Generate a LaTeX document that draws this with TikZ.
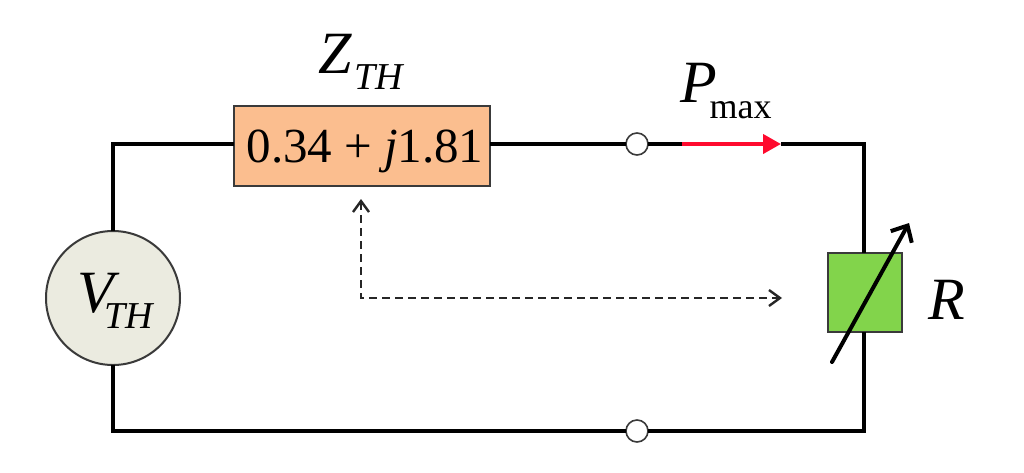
\documentclass[tikz,border=0pt]{standalone}
\usepackage{fontspec}
\setmainfont{Liberation Serif}
\usetikzlibrary{arrows.meta}
\definecolor{boxorange}{HTML}{FBBE8F}
\definecolor{boxgreen}{HTML}{82D44B}
\definecolor{srcfill}{HTML}{EBEBE0}
\definecolor{edgegray}{HTML}{3A3A3A}
\definecolor{flowred}{HTML}{FF0A2E}
\tikzset{
  wire/.style={line width=4pt,black,line cap=butt,line join=miter},
  outlined/.style={draw=edgegray,line width=2pt,inner sep=0pt,outer sep=0pt},
  terminal/.style={circle,draw=edgegray,line width=1.6pt,fill=white,minimum size=22pt,inner sep=0pt,outer sep=0pt},
  label/.style={anchor=base west,inner sep=0pt,outer sep=0pt,font=\fontsize{60}{60}\selectfont\itshape},
  flow/.style={line width=4pt,flowred,-{Triangle[length=18pt,width=19pt]}},
  sweep/.style={line width=4pt,black,line cap=round,-{Straight Barb[length=13pt,width=24pt,line width=4pt]}},
  measure/.style={line width=2.4pt,black!85,dash pattern=on 8pt off 5pt,{Straight Barb[length=11pt,width=16pt,line width=2.4pt]}-{Straight Barb[length=11pt,width=16pt,line width=2.4pt]}}
}
\newcommand{\subTH}[1]{\raisebox{#1}{\fontsize{38}{38}\selectfont\itshape TH}}
\begin{document}
\begin{tikzpicture}[x=1pt,y=-1pt]
\useasboundingbox (0,0) rectangle (1024,472);
\fill[white] (0,0) rectangle (1024,472);
% nodes
\node[outlined,circle,fill=srcfill,minimum size=134pt] (src) at (113,298) {};
\node[outlined,fill=boxorange,minimum width=256pt,minimum height=80pt] (zth) at (362,146) {};
\node[outlined,fill=boxgreen,minimum width=74pt,minimum height=79pt] (load) at (865,292.5) {};
\node[terminal] (t1) at (637,144) {};
\node[terminal] (t2) at (637,431) {};
% corner and free-end points
\coordinate (tl) at (113,144);
\coordinate (tr) at (864,144);
\coordinate (br) at (864,431);
\coordinate (bl) at (113,431);
\coordinate (redA) at (682,144);
\coordinate (redB) at (781,144);
\coordinate (sweepA) at (832,362);
\coordinate (sweepB) at (909,223);
\coordinate (dashA) at (361,199);
\coordinate (dashC) at (361,298);
\coordinate (dashB) at (782,298);
% wires
\draw[wire] (src.north) -- (tl) -- (zth.west |- tl);
\draw[wire] (zth.east |- tl) -- (t1.west);
\draw[wire] (t1.east) -- (redA);
\draw[wire] (redB) -- (tr) -- (tr |- load.north);
\draw[wire] (br |- load.south) -- (br) -- (t2.east);
\draw[wire] (t2.west) -- (bl) -- (src.south);
\draw[flow] (redA) -- (redB);
\draw[sweep] (sweepA) -- (sweepB);
\draw[measure] (dashA) -- (dashC) -- (dashB);
% labels
\node[anchor=base,inner sep=0pt,font=\fontsize{49}{49}\selectfont] (val) at (365,162) {0.34\kern12pt+\kern12pt\textit{j}1.81};
\node[label] (lz) at (318,73) {Z\kern3pt\subTH{-16pt}};
\node[label] (lv) at (77,312) {V\kern-9pt\subTH{-16pt}};
\node[label] (lp) at (680,102) {P\kern-7pt\raisebox{-16pt}{\fontsize{36}{36}\selectfont\upshape max}};
\node[label] (lr) at (928,319) {R};
\end{tikzpicture}
\end{document}
